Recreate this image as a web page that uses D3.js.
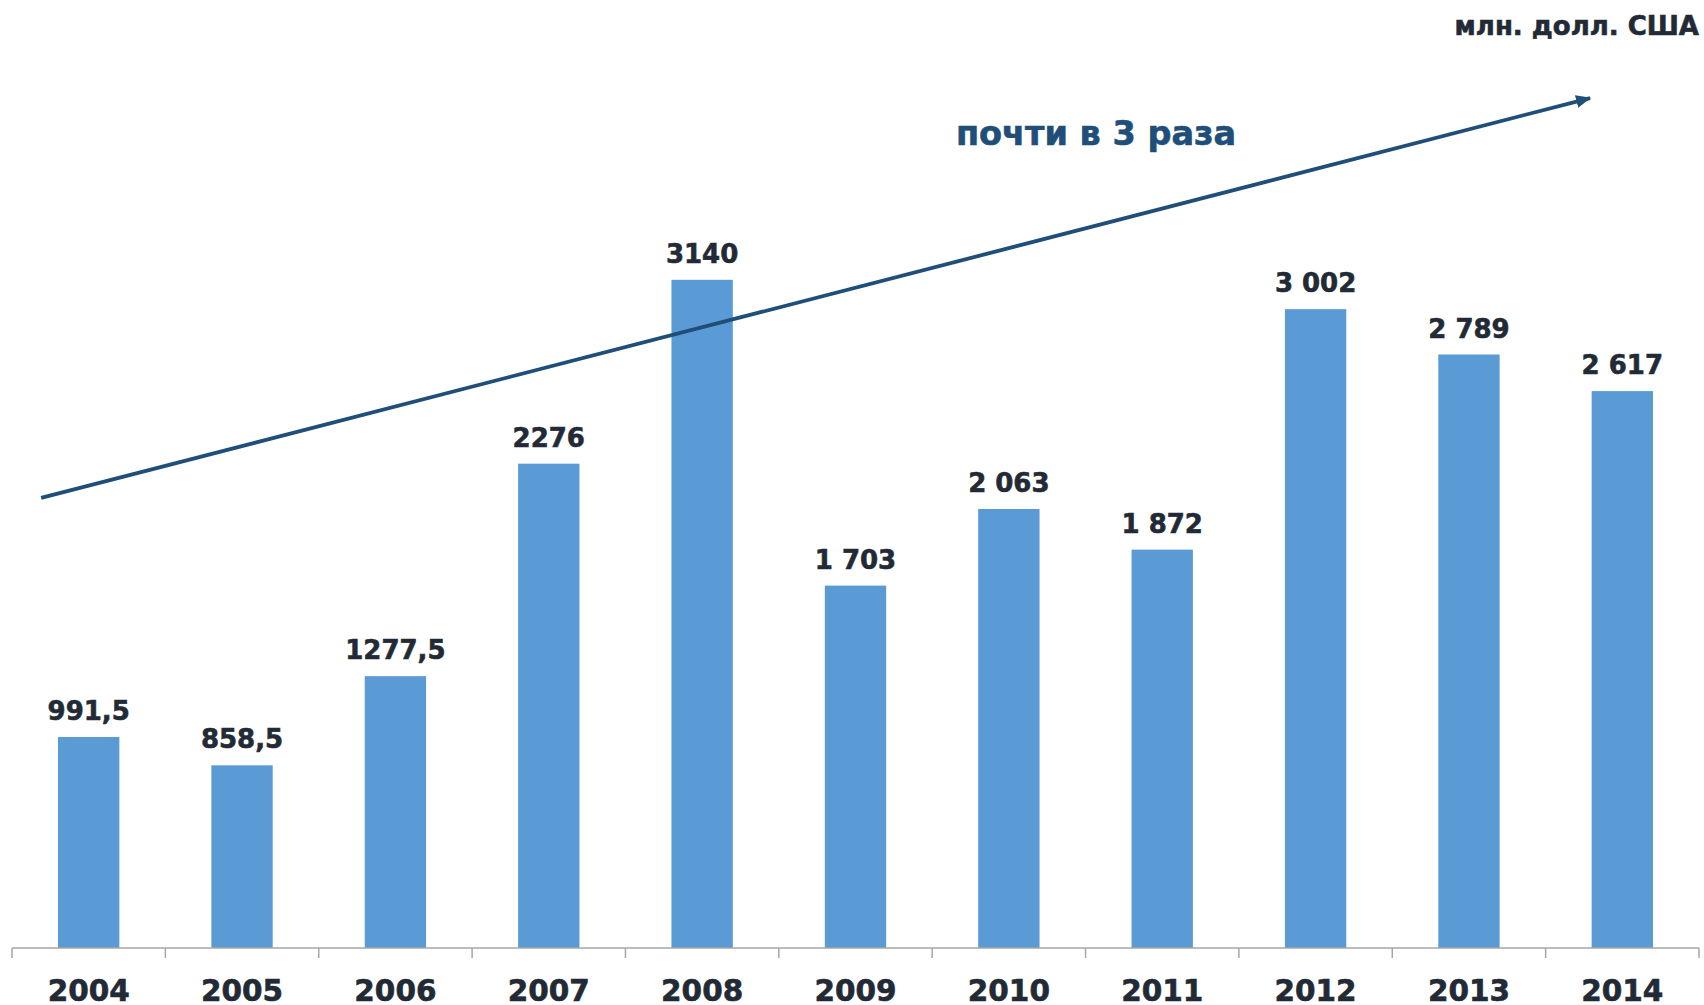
<!DOCTYPE html>
<html>
<head>
<meta charset="utf-8">
<script src="https://cdn.jsdelivr.net/npm/d3@7"></script>
<style>
  body { margin: 0; background: #fff; }
  text { font-family: "DejaVu Sans", Verdana, sans-serif; font-weight: bold; stroke-width: 0.6px; }
</style>
</head>
<body>
<div id="chart"></div>
<script>
// data
const years = ["2004", "2005", "2006", "2007", "2008", "2009", "2010", "2011", "2012", "2013", "2014"];
const values = [991.5, 858.5, 1277.5, 2276, 3140, 1703, 2063, 1872, 3002, 2789, 2617];
const valueLabels = ["991,5", "858,5", "1277,5", "2276", "3140", "1 703", "2 063", "1 872", "3 002", "2 789", "2 617"];
// trend arrow, in category-index units and values
const trendX = [0.19, 10.29];
const trendY = [2115, 3994];

const width = 1704, height = 1005;
const margin = { left: 12, right: 5, bottom: 57 };
const baseY = height - margin.bottom;
const textColor = "#222A35", blue = "#1F4E79";

const svg = d3.select("#chart")
  .append("svg")
  .attr("width", width)
  .attr("height", height);

const x = d3.scaleBand()
  .domain(years)
  .range([margin.left, width - margin.right])
  .paddingInner(0.6)
  .paddingOuter(0.3);

const xIdx = d3.scaleLinear()
  .domain([0, years.length])
  .range([margin.left, width - margin.right]);

const y = d3.scaleLinear()
  .domain([0, 3500])
  .range([baseY, baseY - 3500 * 0.2128]);

// bars
svg.selectAll(".bar")
  .data(values)
  .join("rect")
  .attr("class", "bar")
  .attr("x", (d, i) => x(years[i]))
  .attr("width", x.bandwidth())
  .attr("y", d => y(d))
  .attr("height", d => baseY - y(d))
  .attr("fill", "#5B9BD5");

// value labels
svg.selectAll(".val")
  .data(values)
  .join("text")
  .attr("class", "val")
  .attr("x", (d, i) => x(years[i]) + x.bandwidth() / 2)
  .attr("y", d => y(d) - 17)
  .attr("text-anchor", "middle")
  .attr("font-size", 26)
  .attr("fill", textColor).attr("stroke", textColor)
  .text((d, i) => valueLabels[i]);

// x axis
const axis = svg.append("g")
  .attr("transform", `translate(0, ${baseY})`);
axis.append("line")
  .attr("x1", xIdx(0)).attr("x2", xIdx(years.length))
  .attr("stroke", "#A6A6A6").attr("stroke-width", 1.5);
axis.selectAll(".tick")
  .data(d3.range(years.length + 1))
  .join("line")
  .attr("x1", d => xIdx(d)).attr("x2", d => xIdx(d))
  .attr("y1", 0).attr("y2", 10)
  .attr("stroke", "#A6A6A6").attr("stroke-width", 1.5);
axis.selectAll(".lab")
  .data(years)
  .join("text")
  .attr("x", d => x(d) + x.bandwidth() / 2)
  .attr("y", 53)
  .attr("text-anchor", "middle")
  .attr("font-size", 29.5)
  .attr("fill", textColor).attr("stroke", textColor)
  .text(d => d);

// arrow
svg.append("defs").append("marker")
  .attr("id", "head")
  .attr("markerUnits", "userSpaceOnUse")
  .attr("viewBox", "0 0 15 13")
  .attr("refX", 14).attr("refY", 6.5)
  .attr("markerWidth", 15).attr("markerHeight", 13)
  .attr("orient", "auto")
  .append("path")
  .attr("d", "M0,0 L15,6.5 L0,13 Z")
  .attr("fill", blue);

svg.append("line")
  .attr("x1", xIdx(trendX[0])).attr("y1", y(trendY[0]))
  .attr("x2", xIdx(trendX[1])).attr("y2", y(trendY[1]))
  .attr("stroke", blue)
  .attr("stroke-width", 3.8)
  .attr("marker-end", "url(#head)");

svg.append("text")
  .attr("x", 1096).attr("y", 145)
  .attr("text-anchor", "middle")
  .attr("font-size", 33.5)
  .attr("fill", blue).attr("stroke", blue)
  .text("почти в 3 раза");

svg.append("text")
  .attr("x", 1699).attr("y", 35)
  .attr("text-anchor", "end")
  .attr("font-size", 26)
  .attr("fill", textColor).attr("stroke", textColor)
  .text("млн. долл. США");
</script>
</body>
</html>
